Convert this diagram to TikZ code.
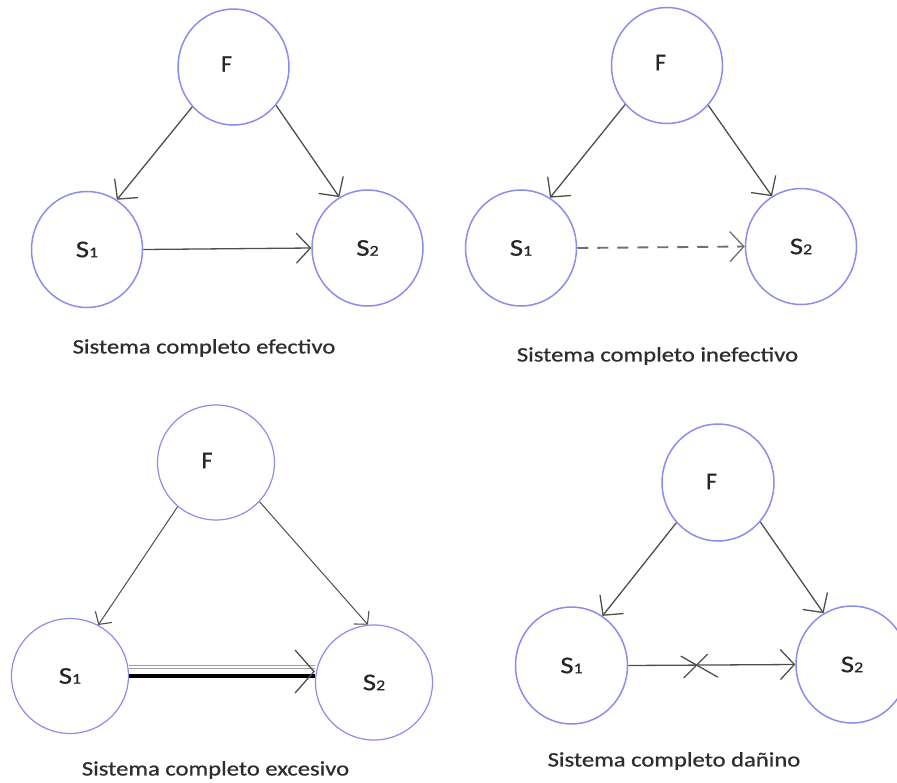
\documentclass[tikz,border=0pt]{standalone}
\usepackage{fontspec}
\setmainfont{Carlito}
\newfontfamily\heavyfont[FakeBold=0.7]{Carlito}
\usepackage{graphicx}
\usetikzlibrary{arrows.meta,shapes.geometric,calc}

\definecolor{ringblue}{RGB}{140,140,236}
\definecolor{linkgray}{RGB}{78,78,78}
\definecolor{dashgray}{RGB}{112,112,112}
\definecolor{captxt}{RGB}{45,45,45}

% wide, slightly stretched text and small baseline digits
\newcommand\stretchtxt[1]{\scalebox{1.2}[1]{#1}}
\newcommand\subdigit[1]{{\fontsize{15}{15}\selectfont #1}}

\tikzset{
  ent/.style={ellipse, draw=ringblue, line width=1.5pt,
    minimum width=111pt, minimum height=116pt, inner sep=0pt,
    font=\heavyfont\fontsize{24}{24}\selectfont, text=black!85},
  lbl/.style={font=\heavyfont\fontsize{24}{24}\selectfont, text=black!85, inner sep=0pt},
  captext/.style={font=\heavyfont\fontsize{20.5}{22}\selectfont, text=captxt, inner sep=0pt},
  link/.style={draw=linkgray, line width=1.3pt,
    -{Straight Barb[length=14pt, width=30pt, line width=1.3pt]}},
  smalltip/.style={-{Straight Barb[length=9pt, width=20pt, line width=1.1pt]}},
}

\begin{document}
\begin{tikzpicture}[x=1pt, y=-1pt]
\useasboundingbox (0,0) rectangle (897,782);
\clip (0,0) rectangle (897,782);

% ---------- effective system ----------
\node[ent, label={[lbl, xshift=-7pt, yshift=3pt]center:F}] (fa) at (233.5,67) {};
\node[ent] (sa1) at (87,249.5) {\stretchtxt{S\subdigit{1}}};
\node[ent] (sa2) at (367.5,248) {\stretchtxt{S\subdigit{2}}};
\draw[link] (fa.224) -- (sa1.59);
\draw[link] (fa.318) -- (sa2.119);
\draw[link] (sa1.east) -- (sa2.west);
\node[captext] (ca) at (204,348) {\stretchtxt{Sistema completo efectivo}};

% ---------- ineffective system ----------
\node[ent, label={[lbl, xshift=-6.5pt, yshift=3pt]center:F}] (fb) at (667,65.5) {};
\node[ent] (sb1) at (521,248) {\stretchtxt{S\subdigit{1}}};
\node[ent] (sb2) at (801,246.5) {\stretchtxt{S\subdigit{2}}};
\draw[link] (fb.223) -- (sb1.60);
\draw[link] (fb.316) -- (sb2.120);
\draw[link, draw=dashgray, line width=1.9pt, dash pattern=on 11pt off 9pt]
  (sb1.east) -- (sb2.west);
\node[captext] (cb) at (657.5,356) {\stretchtxt{Sistema completo inefectivo}};

% ---------- excessive system ----------
\begin{scope}[ent/.append style={minimum width=117pt, minimum height=115pt, line width=1.2pt}]
\node[ent, label={[lbl, xshift=-9pt, yshift=2pt]center:F}] (fc) at (216,462.5) {};
\node[ent] (sc1) at (70,676) {\stretchtxt{S\subdigit{1}}};
\node[ent] (sc2) at (374,682.5) {\stretchtxt{S\subdigit{2}}};
\end{scope}
\draw[link, line width=1pt, smalltip] (fc.229) -- (sc1.61);
\draw[link, line width=1pt, smalltip] (fc.318) -- (sc2.96);
\coordinate (dL) at (sc1.east);
\coordinate (dR) at (sc1.east -| sc2.west);
\draw[draw=gray!75, line width=1.3pt, double=white, double distance=1.4pt]
  ([yshift=9pt]dL) -- ([yshift=9pt]dR);
\draw[black, line width=3.8pt] (dL) -- (dR);
\draw[draw=linkgray, line width=1pt, shorten <=184pt,
  -{Straight Barb[length=19pt, width=43pt, line width=1.3pt]}]
  ([yshift=4.5pt]dL) -- ([yshift=4.5pt]dR);
\node[captext] (cc) at (215.5,770) {\stretchtxt{Sistema completo excesivo}};

% ---------- harmful system ----------
\begin{scope}[ent/.append style={minimum width=112pt, minimum height=117pt}]
\node[ent, label={[lbl, xshift=-6.5pt, yshift=1pt]center:F}] (fd) at (718,482.5) {};
\node[ent] (sd1) at (571.5,665.5) {\stretchtxt{S\subdigit{1}}};
\node[ent] (sd2) at (852,664.5) {\stretchtxt{S\subdigit{2}}};
\end{scope}
\draw[link] (fd.224) -- (sd1.58);
\draw[link] (fd.317) -- (sd2.119);
\draw[link] (sd1.east) -- (sd2.west);
\coordinate (xm) at ($(sd1.east)!0.41!(sd2.west)$);
\draw[linkgray, line width=1.3pt] ($(xm)+(-16,-9)$) -- ($(xm)+(21,12)$);
\draw[linkgray, line width=1.3pt] ($(xm)+(-13,13)$) -- ($(xm)+(11,-11)$);
\node[captext] (cd) at (674,761) {\stretchtxt{Sistema completo dañino}};

\end{tikzpicture}
\end{document}
